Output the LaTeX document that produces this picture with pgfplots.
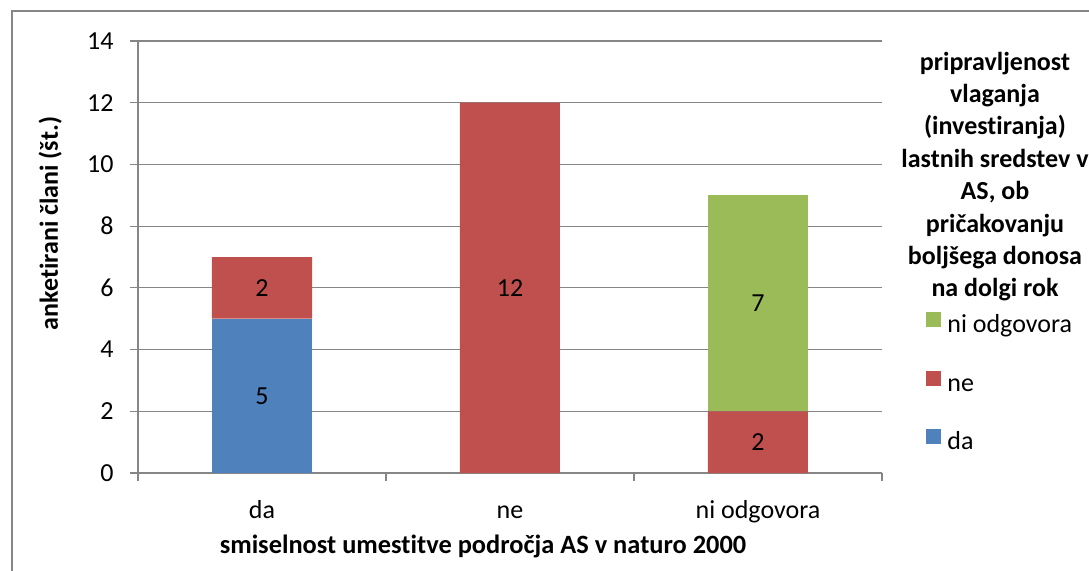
\documentclass[border=0pt]{standalone}
\usepackage{fontspec}
\setmainfont{Carlito}[RawFeature={-liga}]
\usepackage{pgfplots}
\pgfplotsset{compat=1.18}
\definecolor{cda}{RGB}{79,129,189}
\definecolor{cne}{RGB}{192,80,77}
\definecolor{cni}{RGB}{155,187,89}
\definecolor{gridc}{RGB}{134,134,134}
\pgfplotsset{sq legend/.style={legend image code/.code={%
  \fill[##1] (0pt,0pt) rectangle (7.5pt,7.5pt); \path (10.5pt,0pt);}}}

\begin{document}
\begin{tikzpicture}[font=\fontsize{13pt}{15.6pt}\selectfont]
\useasboundingbox (0,0) rectangle (544.5pt,285pt);
\draw[gridc, line width=0.7pt] (6pt,-20pt) rectangle (570pt,279.5pt);

\begin{axis}[
    at={(69pt,48.5pt)}, anchor=south west,
    scale only axis, width=372pt, height=216pt,
    ybar stacked, bar width=50pt,
    xmin=-0.5, xmax=2.5, ymin=0, ymax=14,
    axis lines*=left,
    axis line style={gridc, line width=0.6pt},
    ytick={0,2,...,14},
    ymajorgrids, grid style={gridc, line width=0.6pt},
    tick align=outside, major tick length=4pt,
    tick style={gridc, line width=0.6pt},
    xtick={-0.5,0.5,1.5,2.5}, xticklabels={},
    extra x ticks={0,1,2}, extra x tick labels={da,ne,ni odgovora},
    extra x tick style={major tick length=0pt, grid=none},
    xticklabel style={anchor=base, inner sep=0pt, yshift=-22.5pt},
    yticklabel style={anchor=east, inner sep=0pt, xshift=-8pt},
    /pgf/number format/assume math mode=true,
    xlabel={\fontsize{13.2pt}{15.6pt}\selectfont\bfseries smiselnost umestitve področja AS v naturo 2000},
    xlabel style={at={(axis description cs:0.4637,0)}, anchor=base, yshift=-40pt, inner sep=0pt},
    ylabel={\fontsize{13pt}{15.6pt}\selectfont\bfseries anketirani člani (št.)},
    ylabel style={at={(axis description cs:-0.118,0.5775)}, anchor=center, inner sep=0pt},
    legend style={at={(rel axis cs:1.0591,0.3727)}, anchor=north west,
        draw=none, fill=none, inner sep=0pt, row sep=16.5pt,
        nodes={inner sep=0pt, text height=8pt, text depth=2.5pt},
        font=\fontsize{13pt}{15.6pt}\selectfont},
    legend cell align=left,
    reverse legend,
]
\addplot[fill=cda, draw=none, sq legend] coordinates {(0,5) (1,0) (2,0)};
\addlegendentry{da}
\addplot[fill=cne, draw=none, sq legend] coordinates {(0,2) (1,12) (2,2)};
\addlegendentry{ne}
\addplot[fill=cni, draw=none, sq legend] coordinates {(0,0) (1,0) (2,7)};
\addlegendentry{ni odgovora}
\end{axis}

% segment labels, centred in each segment
\begin{axis}[
    at={(69pt,48.5pt)}, anchor=south west,
    scale only axis, width=372pt, height=216pt,
    xmin=-0.5, xmax=2.5, ymin=0, ymax=14,
    axis lines=none,
]
\addplot[only marks, mark=none, nodes near coords, point meta=explicit symbolic,
    nodes near coords style={anchor=center, text=black, inner sep=0pt}]
    coordinates {(0,2.5)[5] (0,6)[2] (1,6)[12] (2,1)[2] (2,5.5)[7]};
\end{axis}

\node[align=center, font=\fontsize{13pt}{16.2pt}\selectfont\bfseries]
  at (497.5pt,196.75pt)
  {pripravljenost\\vlaganja\\(investiranja)\\lastnih sredstev v\\AS, ob\\pričakovanju\\boljšega donosa\\na dolgi rok};
\end{tikzpicture}
\end{document}
